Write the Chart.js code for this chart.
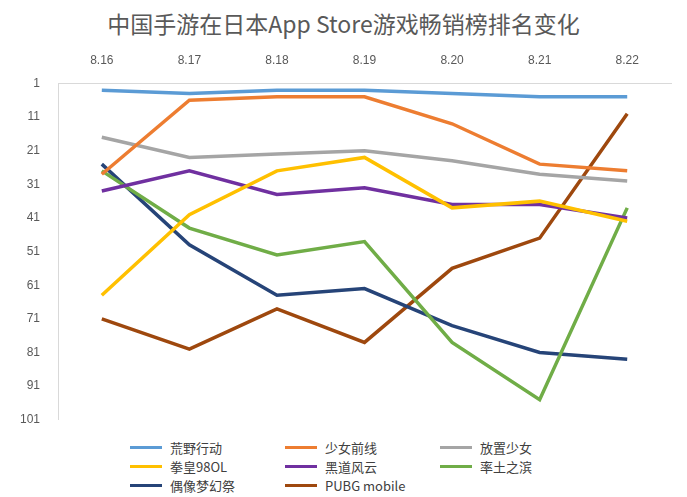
<!DOCTYPE html>
<html><head><meta charset="utf-8">
<script src="https://cdn.jsdelivr.net/npm/chart.js@4"></script>
<style>
body{margin:0;background:#fff;font-family:"Noto Sans CJK SC","Noto Sans",sans-serif;}
#wrap{position:relative;width:687px;height:497px;}
#title{position:absolute;top:6px;width:687px;text-align:center;font-size:23px;color:#595959;}
#cv{position:absolute;left:0;top:45px;}
#leg{position:absolute;left:130px;top:438px;display:grid;grid-template-columns:155px 155px 155px;row-gap:0px;font-size:13px;color:#404040;}
#leg div{display:flex;align-items:center;height:19px;}
#leg span{display:inline-block;width:32px;height:3px;margin-right:8px;}
</style></head><body>
<div id="wrap"><div id="title">中国手游在日本App Store游戏畅销榜排名变化</div>
<canvas id="cv" width="687" height="392"></canvas><div id="leg"></div></div>
<script>
const labels=["8.16","8.17","8.18","8.19","8.20","8.21","8.22"];
const names=["荒野行动","少女前线","放置少女","拳皇98OL","黑道风云","率土之滨","偶像梦幻祭","PUBG mobile"];
const colors=["#5B9BD5","#ED7D31","#A5A5A5","#FFC000","#7030A0","#70AD47","#264478","#9E480E"];
const s1=[3,4,3,3,4,5,5];
const s2=[28,6,5,5,13,25,27];
const s3=[17,23,22,21,24,28,30];
const s4=[64,40,27,23,38,36,42];
const s5=[33,27,34,32,37,37,41];
const s6=[27,44,52,48,78,95,38];
const s7=[25,49,64,62,73,81,83];
const s8=[71,80,68,78,56,47,10];
const series=[s1,s2,s3,s4,s5,s6,s7,s8];
const yTicks=[1,11,21,31,41,51,61,71,81,91,101];
const leg=document.getElementById('leg');
names.forEach((n,i)=>{const d=document.createElement('div');d.innerHTML='<span style="background:'+colors[i]+'"></span>'+n;leg.appendChild(d);});
new Chart(document.getElementById('cv'),{type:'line',
data:{labels,datasets:series.map((s,i)=>({label:names[i],data:s,borderColor:colors[i],backgroundColor:colors[i],borderWidth:3.5,pointRadius:0,tension:0}))},
options:{responsive:false,animation:false,layout:{padding:{left:10,right:16,top:0,bottom:0}},
plugins:{legend:{display:false},tooltip:{enabled:false}},
scales:{x:{position:'top',offset:true,grid:{display:false},border:{color:'#d9d9d9'},ticks:{color:'#595959',font:{size:12},padding:8}},
y:{reverse:true,min:1,max:101,afterBuildTicks:a=>{a.ticks=yTicks.map(v=>({value:v}));},grid:{display:false},border:{color:'#d9d9d9'},ticks:{color:'#595959',font:{size:12},padding:10}}}}});
</script></body></html>
